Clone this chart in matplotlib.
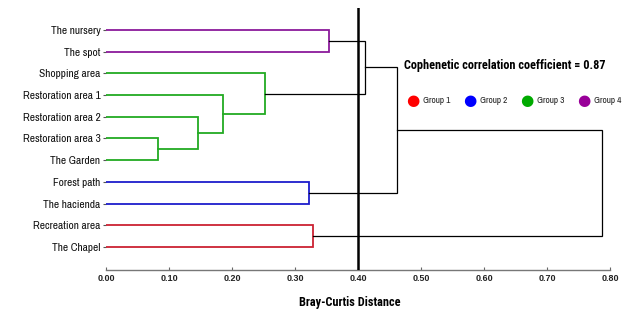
import matplotlib
matplotlib.use("Agg")
import matplotlib.pyplot as plt
from matplotlib import font_manager

names = {f.name for f in font_manager.fontManager.ttflist}


def pick(cands):
    for cand in cands:
        if cand in names:
            return cand
    return "DejaVu Sans"


narrow = pick(["Archivo Narrow", "Roboto Condensed", "Liberation Sans Narrow"])
narrow_bold = pick(["Roboto Condensed", "Asap Condensed", "Barlow Semi Condensed"])

leaves = ["The nursery", "The spot", "Shopping area", "Restoration area 1",
          "Restoration area 2", "Restoration area 3", "The Garden",
          "Forest path", "The hacienda", "Recreation area", "The Chapel"]

# merges: child a, child b, height; new nodes numbered from 11
merge_a = [5, 4, 3, 2, 0, 15, 7, 16, 9, 18]
merge_b = [6, 11, 12, 13, 1, 14, 8, 17, 10, 19]
merge_h = [0.082, 0.146, 0.186, 0.253, 0.354, 0.411, 0.322, 0.462, 0.328, 0.788]
merge_c = ["#22aa22", "#22aa22", "#22aa22", "#22aa22", "#8b1a9b", "black",
           "#1c1ccc", "black", "#cc2233", "black"]

groups = ["Group 1", "Group 2", "Group 3", "Group 4"]
group_colors = ["#ff0000", "#0000ff", "#00aa00", "#990099"]

cut = 0.40
coef = 0.87

fig = plt.figure(figsize=(6.3, 3.21), dpi=100)
ax = fig.add_axes([106 / 630, 51 / 321, 504 / 630, 262 / 321])

ypos = {i: i for i in range(len(leaves))}
xpos = {i: 0.0 for i in range(len(leaves))}
for k in range(len(merge_h)):
    a, b, h, c = merge_a[k], merge_b[k], merge_h[k], merge_c[k]
    lw = 1.3 if c != "black" else 0.9
    ax.plot([xpos[a], h, h, xpos[b]], [ypos[a], ypos[a], ypos[b], ypos[b]],
            color=c, lw=lw, solid_joinstyle="miter", zorder=2)
    node = len(leaves) + k
    ypos[node] = (ypos[a] + ypos[b]) / 2
    xpos[node] = h

ax.axvline(cut, color="black", lw=1.8, zorder=3)

ax.set_xlim(0, 0.8)
ax.set_ylim(11.06, -1.01)
ax.set_xticks([i / 10 for i in range(9)])
ax.set_xticklabels([f"{i / 10:.2f}" for i in range(9)],
                   fontsize=6.5, fontweight="bold", family="Liberation Sans",
                   color="#222222")
ax.set_yticks(range(len(leaves)))
ax.set_yticklabels(leaves, fontsize=8.2, family=narrow, color="#111111")
ax.tick_params(axis="y", length=2, pad=2, color="#555555")
ax.tick_params(axis="x", direction="in", length=2.5, color="#666666", pad=3)
for s in ["top", "right", "left"]:
    ax.spines[s].set_visible(False)
ax.spines["bottom"].set_color("#777777")
ax.spines["bottom"].set_linewidth(1.0)

ax.set_xlabel("Bray-Curtis Distance", fontsize=8.8, fontweight="bold",
              family=narrow_bold)
ax.xaxis.set_label_coords(0.484, -0.1)

fig.text(404 / 630, 1 - 66 / 321, f"Cophenetic correlation coefficient = {coef}",
         fontsize=8.8, fontweight="bold", family=narrow_bold, va="center")

for i, (g, col) in enumerate(zip(groups, group_colors)):
    x0 = 413 + i * 57
    fig.text(x0 / 630, 1 - 101 / 321, "\u25cf", color=col, fontsize=11,
             ha="center", va="center", family="DejaVu Sans")
    fig.text((x0 + 10) / 630, 1 - 101 / 321, g, fontsize=6.7, family=narrow,
             va="center", color="#222222")

fig.savefig("out.png", dpi=100)
